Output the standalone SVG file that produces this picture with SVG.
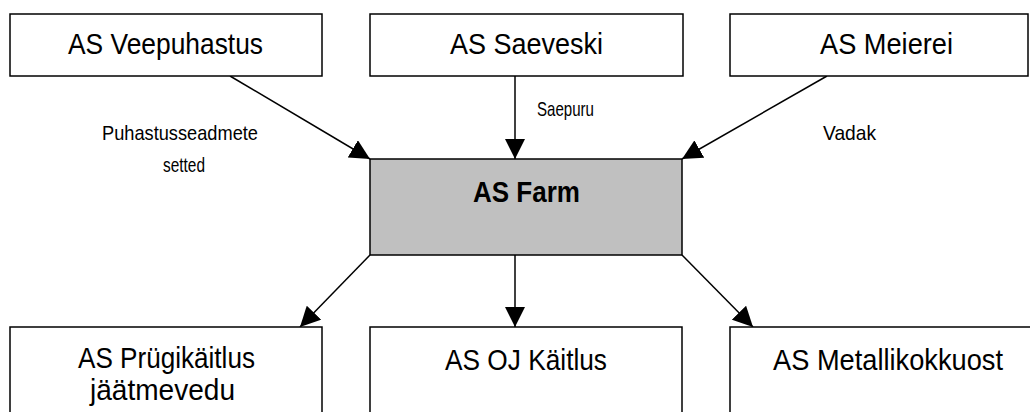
<svg xmlns="http://www.w3.org/2000/svg" width="1030" height="412" viewBox="0 0 1030 412">
<style>
.box{fill:#fff;stroke:#000;stroke-width:1.5}
.hub{fill:#c0c0c0;stroke:#000;stroke-width:1.5}
.t{font-family:"Liberation Sans",Arial,sans-serif;font-size:29px;fill:#000}
.b{font-weight:bold}
.l{font-family:"Liberation Sans",Arial,sans-serif;font-size:21px;fill:#000}
.c{stroke:#000;stroke-width:1.5;fill:none;marker-end:url(#ah)}
</style>
<defs>
<marker id="ah" markerUnits="userSpaceOnUse" markerWidth="20" markerHeight="20" refX="20" refY="10" orient="auto">
<path d="M0,0 L20,10 L0,20 z" fill="#000"/>
</marker>
</defs>
<rect width="1030" height="412" fill="#fff"/>
<g id="connectors">
<line class="c" x1="230" y1="76" x2="370" y2="159"/>
<line class="c" x1="515" y1="76" x2="515" y2="159"/>
<line class="c" x1="827" y1="76" x2="682" y2="159"/>
<line class="c" x1="370" y1="255" x2="300" y2="327"/>
<line class="c" x1="515" y1="255" x2="515" y2="327"/>
<line class="c" x1="682" y1="255" x2="753" y2="327"/>
<text class="l" x="102" y="140" textLength="156" lengthAdjust="spacingAndGlyphs">Puhastusseadmete</text>
<text class="l" x="163" y="172" textLength="42" lengthAdjust="spacingAndGlyphs">setted</text>
<text class="l" x="537" y="116" textLength="57" lengthAdjust="spacingAndGlyphs">Saepuru</text>
<text class="l" x="823" y="140" textLength="53" lengthAdjust="spacingAndGlyphs">Vadak</text>
</g>
<g id="veepuhastus">
<rect class="box" x="10" y="14" width="312" height="62"/>
<text class="t" x="68" y="54" textLength="195" lengthAdjust="spacingAndGlyphs">AS Veepuhastus</text>
</g>
<g id="saeveski">
<rect class="box" x="370" y="14" width="313" height="62"/>
<text class="t" x="450" y="54" textLength="153" lengthAdjust="spacingAndGlyphs">AS Saeveski</text>
</g>
<g id="meierei">
<rect class="box" x="730" y="14" width="298" height="62"/>
<text class="t" x="820" y="54" textLength="133" lengthAdjust="spacingAndGlyphs">AS Meierei</text>
</g>
<g id="farm">
<rect class="hub" x="370" y="159" width="312" height="96"/>
<text class="t b" x="473" y="202" textLength="107" lengthAdjust="spacingAndGlyphs">AS Farm</text>
</g>
<g id="prugikaitlus">
<rect class="box" x="10" y="327" width="312" height="120"/>
<text class="t" x="78" y="368" textLength="177" lengthAdjust="spacingAndGlyphs">AS Prügikäitlus</text>
<text class="t" x="90" y="400" textLength="145" lengthAdjust="spacingAndGlyphs">jäätmevedu</text>
</g>
<g id="ojkaitlus">
<rect class="box" x="370" y="327" width="312" height="120"/>
<text class="t" x="445" y="370" textLength="162" lengthAdjust="spacingAndGlyphs">AS OJ Käitlus</text>
</g>
<g id="metallikokkuost">
<rect class="box" x="730" y="327" width="340" height="120"/>
<text class="t" x="773" y="370" textLength="230" lengthAdjust="spacingAndGlyphs">AS Metallikokkuost</text>
</g>
</svg>
